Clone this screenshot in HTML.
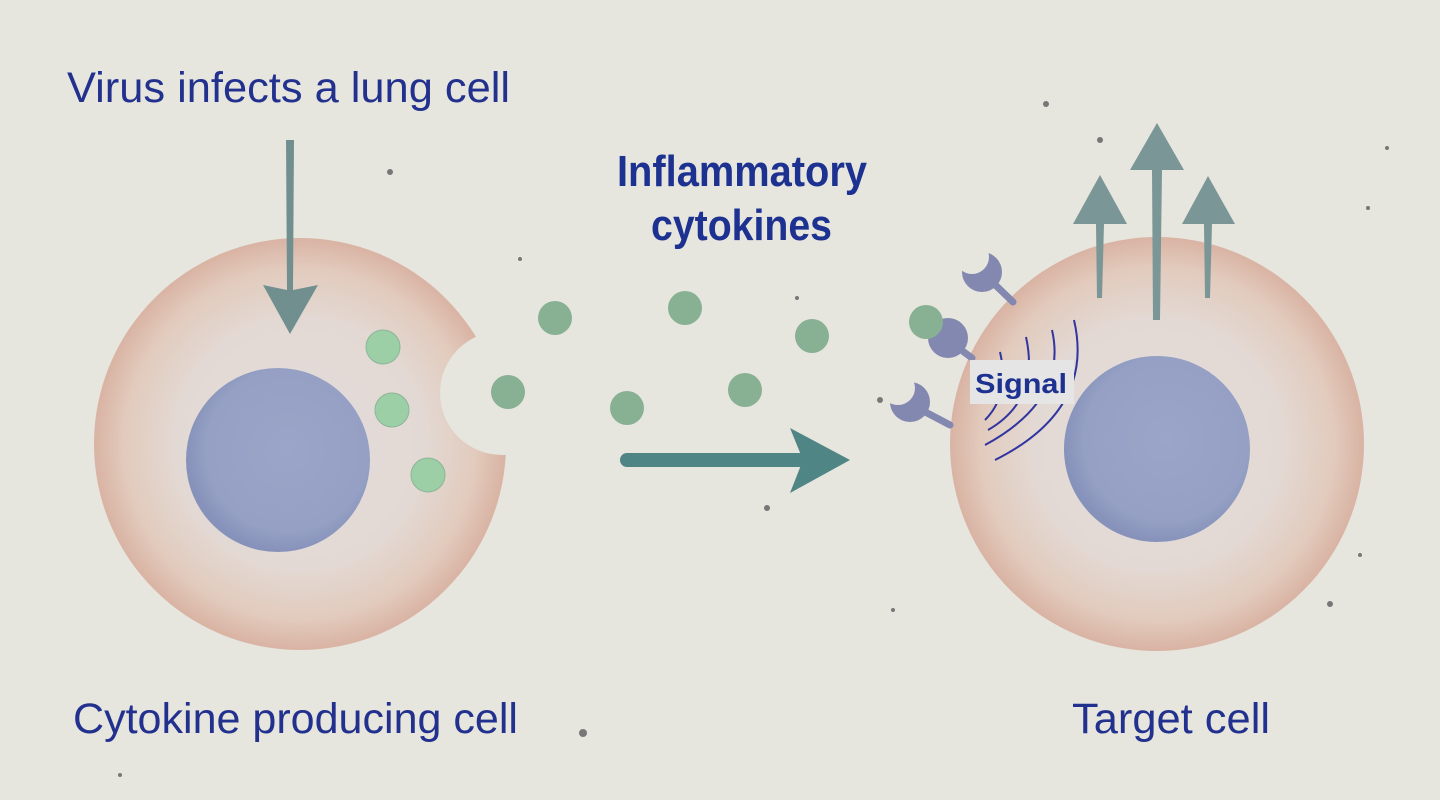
<!DOCTYPE html>
<html><head><meta charset="utf-8"><style>
html,body{margin:0;padding:0;background:#e6e5de;}
svg{display:block}
text{font-family:"Liberation Sans",sans-serif;}
</style></head><body>
<svg width="1440" height="800" viewBox="0 0 1440 800" xmlns="http://www.w3.org/2000/svg">
<defs>
<radialGradient id="cyt" cx="50%" cy="50%" r="50%">
<stop offset="0" stop-color="#e2dcdc"/>
<stop offset="0.6" stop-color="#e3d9d4"/>
<stop offset="0.85" stop-color="#e2cbbd"/>
<stop offset="1" stop-color="#d9b3a3"/>
</radialGradient>
<radialGradient id="nuc" cx="55%" cy="45%" r="55%">
<stop offset="0" stop-color="#9aa5c8"/>
<stop offset="0.8" stop-color="#95a0c4"/>
<stop offset="1" stop-color="#8792bb"/>
</radialGradient>
</defs>
<rect width="1440" height="800" fill="#e6e5de"/>
<!-- specks -->
<g fill="#777">
<circle cx="390" cy="172" r="3"/><circle cx="1046" cy="104" r="3"/><circle cx="767" cy="508" r="3"/>
<circle cx="583" cy="733" r="4"/><circle cx="893" cy="610" r="2"/><circle cx="1330" cy="604" r="3"/>
<circle cx="1360" cy="555" r="2"/><circle cx="1368" cy="208" r="2"/><circle cx="1387" cy="148" r="2"/>
<circle cx="520" cy="259" r="2"/><circle cx="120" cy="775" r="2"/><circle cx="880" cy="400" r="3"/>
<circle cx="797" cy="298" r="2"/><circle cx="1100" cy="140" r="3"/>
</g>
<!-- left cell -->
<circle cx="300" cy="444" r="206" fill="url(#cyt)"/>
<circle cx="502" cy="393" r="62" fill="#e6e5de"/>
<circle cx="278" cy="460" r="92" fill="url(#nuc)"/>
<!-- down arrow -->
<path d="M286,140 L294,140 L293,290 L318,285 L290,334 L263,285 L287,290 Z" fill="#728f90"/>
<!-- right cell -->
<circle cx="1157" cy="444" r="207" fill="url(#cyt)"/>
<circle cx="1157" cy="449" r="93" fill="url(#nuc)"/>
<!-- up arrows -->
<g fill="#7b9696">
<path d="M1097,298 L1102,298 L1104,224 L1127,224 L1100,175 L1073,224 L1096,224 Z"/>
<path d="M1153,320 L1160,320 L1162,170 L1184,170 L1157,123 L1130,170 L1152,170 Z"/>
<path d="M1205,298 L1210,298 L1212,224 L1235,224 L1208,176 L1182,224 L1204,224 Z"/>
</g>
<!-- receptors -->
<g stroke="#8388b0" stroke-width="7" stroke-linecap="round">
<line x1="985" y1="275" x2="1013" y2="302"/>
<line x1="945" y1="338" x2="972" y2="358"/>
<line x1="912" y1="405" x2="950" y2="425"/>
</g>
<g fill="#8388b0">
<circle cx="982" cy="272" r="20"/>
<circle cx="948" cy="338" r="20"/>
<circle cx="910" cy="402" r="20"/>
</g>
<g fill="#e6e5de">
<circle cx="972" cy="257" r="17"/>
<circle cx="898" cy="388" r="17"/>
</g>
<!-- signal arcs -->
<g fill="none" stroke="#3035a0" stroke-width="2">
<path d="M1074,320 Q1095,410 995,460"/>
<path d="M1052,330 Q1068,400 985,445"/>
<path d="M1026,337 Q1040,400 988,430"/>
<path d="M1000,352 Q1010,395 985,420"/>
</g>
<rect x="970" y="360" width="104" height="44" fill="#e6e5e6"/>
<text x="975" y="393" font-size="28" font-weight="bold" fill="#1c3190" textLength="92" lengthAdjust="spacingAndGlyphs">Signal</text>
<!-- green dots -->
<g fill="#9dcfa7" stroke="#8bb596" stroke-width="1">
<circle cx="383" cy="347" r="17"/><circle cx="392" cy="410" r="17"/><circle cx="428" cy="475" r="17"/>
</g>
<g fill="#88b093">
<circle cx="508" cy="392" r="17"/><circle cx="555" cy="318" r="17"/><circle cx="685" cy="308" r="17"/>
<circle cx="627" cy="408" r="17"/><circle cx="745" cy="390" r="17"/><circle cx="812" cy="336" r="17"/>
<circle cx="926" cy="322" r="17"/>
</g>
<!-- horizontal arrow -->
<line x1="627" y1="460" x2="800" y2="460" stroke="#4f8585" stroke-width="14" stroke-linecap="round"/>
<path d="M790,428 L850,460 L790,493 L803,460 Z" fill="#4f8585"/>
<!-- texts -->
<g fill="#22318d">
<text x="67" y="102" font-size="43" textLength="443" lengthAdjust="spacingAndGlyphs">Virus infects a lung cell</text>
<text x="73" y="733" font-size="43" textLength="445" lengthAdjust="spacingAndGlyphs">Cytokine producing cell</text>
<text x="1072" y="733" font-size="43" textLength="198" lengthAdjust="spacingAndGlyphs">Target cell</text>
</g>
<g fill="#1c3190" font-weight="bold">
<text x="617" y="186" font-size="44" textLength="250" lengthAdjust="spacingAndGlyphs">Inflammatory</text>
<text x="651" y="240" font-size="44" textLength="181" lengthAdjust="spacingAndGlyphs">cytokines</text>
</g>
</svg>
</body></html>
